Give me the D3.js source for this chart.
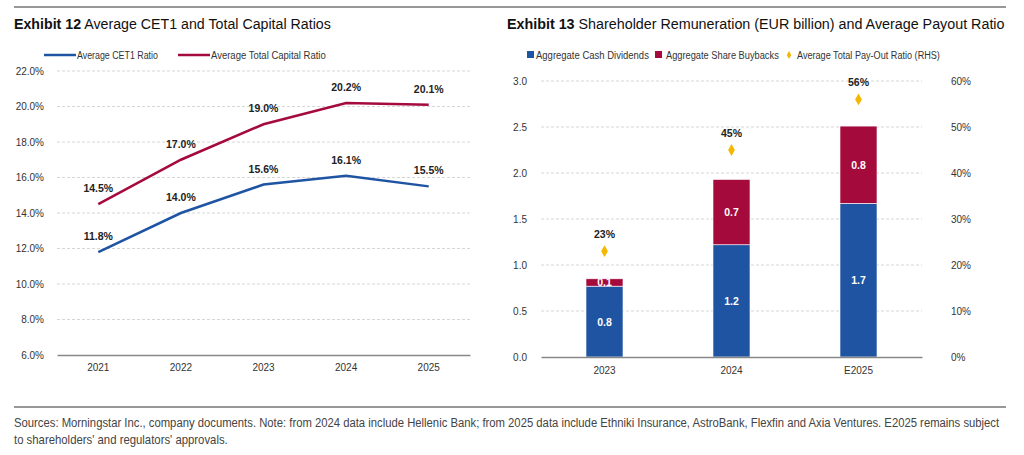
<!DOCTYPE html>
<html>
<head>
<meta charset="utf-8">
<script src="https://cdn.jsdelivr.net/npm/d3@7"></script>
<style>
  body { margin: 0; background: #fff; }
  svg { font-family: "Liberation Sans", Arial, sans-serif; }
  .tick text { fill: #333; font-size: 10px; }
  .grid line { stroke: #d6d6d6; stroke-dasharray: 3,2; }
  .title { font-size: 15.5px; fill: #111; }
  .legend { font-size: 11px; fill: #333; }
  .lbl { font-size: 10.5px; font-weight: bold; fill: #222; }
  .barlbl { font-size: 10.5px; font-weight: bold; fill: #fff; }
  .foot { font-size: 12px; fill: #444; }
</style>
</head>
<body>
<svg id="chart" width="1024" height="455"></svg>
<script>
// Exhibit 12 data
const years = ['2021', '2022', '2023', '2024', '2025'];
const cet1 = [11.8, 14.0, 15.6, 16.1, 15.5];
const totalCapital = [14.5, 17.0, 19.0, 20.2, 20.1];
const ratioTicks = [6, 8, 10, 12, 14, 16, 18, 20, 22];

// Exhibit 13 data
const periods = ['2023', '2024', 'E2025'];
const cashDividends = [0.77, 1.22, 1.67];
const buybacks = [0.08, 0.71, 0.84];
const payout = [23, 45, 56];
const eurTicks = [0, 0.5, 1, 1.5, 2, 2.5, 3];
const payoutTicks = [0, 10, 20, 30, 40, 50, 60];

const BLUE = '#1f54a3';
const RED = '#a50a3c';
const GOLD = '#f5b800';

const svg = d3.select('#chart');

// frame lines
svg.append('line').attr('x1', 14).attr('x2', 1006).attr('y1', 7).attr('y2', 7)
  .attr('stroke', '#333').attr('stroke-width', 1.2);
svg.append('line').attr('x1', 14).attr('x2', 1006).attr('y1', 407).attr('y2', 407)
  .attr('stroke', '#333').attr('stroke-width', 1.2);

// squeeze a text horizontally to the width the condensed font of the original takes
function squeeze(t, x, y, w) {
  const len = t.node().getComputedTextLength();
  t.attr('transform', `translate(${x},${y}) scale(${w / len},1)`);
  return t;
}
function fitText(sel, x, y, cls, str, w) {
  return squeeze(sel.append('text').attr('class', cls).text(str), x, y, w);
}

function title(x, w, bold, rest) {
  const t = svg.append('text').attr('class', 'title');
  t.append('tspan').attr('font-weight', 'bold').text(bold);
  t.append('tspan').text(' ' + rest);
  squeeze(t, x, 29, w);
}
title(14, 317, 'Exhibit 12', 'Average CET1 and Total Capital Ratios');
title(507, 498, 'Exhibit 13', 'Shareholder Remuneration (EUR billion) and Average Payout Ratio');

// ---------- Left chart ----------
const left = { x0: 57, x1: 470, y0: 71, y1: 355 };
const x1 = d3.scaleBand().domain(years).range([left.x0, left.x1]);
const y1 = d3.scaleLinear().domain([6, 22]).range([left.y1, left.y0]);

const gL = svg.append('g');
gL.append('g').attr('class', 'grid')
  .selectAll('line').data(ratioTicks.slice(1)).join('line')
  .attr('x1', left.x0).attr('x2', left.x1)
  .attr('y1', d => y1(d)).attr('y2', d => y1(d));

gL.append('g').attr('transform', `translate(${left.x0 - 10},0)`)
  .call(d3.axisLeft(y1).tickValues(ratioTicks).tickFormat(d => d.toFixed(1) + '%').tickSize(0))
  .call(g => g.select('.domain').remove());

gL.append('g').attr('transform', `translate(0,${left.y1})`)
  .call(d3.axisBottom(x1).tickSize(0).tickPadding(9))
  .call(g => g.select('.domain').attr('stroke', '#888').attr('stroke-width', 1.5));

const line = d3.line().x((d, i) => x1(years[i]) + x1.bandwidth() / 2).y(d => y1(d));
[[totalCapital, RED], [cet1, BLUE]].forEach(([vals, col]) => {
  gL.append('path').datum(vals).attr('d', line)
    .attr('fill', 'none').attr('stroke', col).attr('stroke-width', 2.5);
  gL.append('g').selectAll('text').data(vals).join('text')
    .attr('class', 'lbl').attr('text-anchor', 'middle')
    .attr('x', (d, i) => x1(years[i]) + x1.bandwidth() / 2)
    .attr('y', d => y1(d) - 12)
    .text(d => d.toFixed(1) + '%');
});

// legend left
[['Average CET1 Ratio', BLUE, 44, 81], ['Average Total Capital Ratio', RED, 178, 115]].forEach(([txt, col, lx, w]) => {
  svg.append('line').attr('x1', lx).attr('x2', lx + 32).attr('y1', 55).attr('y2', 55)
    .attr('stroke', col).attr('stroke-width', 2.5);
  fitText(svg, lx + 33, 59, 'legend', txt, w);
});

// ---------- Right chart ----------
const right = { x0: 541, x1: 922, y0: 81, y1: 357 };
const x2 = d3.scaleBand().domain(periods).range([right.x0, right.x1]);
const y2 = d3.scaleLinear().domain([0, 3]).range([right.y1, right.y0]);
const y3 = d3.scaleLinear().domain([0, 60]).range([right.y1, right.y0]);
const barW = 37;

const gR = svg.append('g');
gR.append('g').attr('class', 'grid')
  .selectAll('line').data(eurTicks.slice(1)).join('line')
  .attr('x1', right.x0).attr('x2', right.x1)
  .attr('y1', d => y2(d)).attr('y2', d => y2(d));

gR.append('g').attr('transform', `translate(${right.x0 - 11},0)`)
  .call(d3.axisLeft(y2).tickValues(eurTicks).tickFormat(d3.format('.1f')).tickSize(0))
  .call(g => g.select('.domain').remove());

gR.append('g').attr('transform', `translate(${right.x1 + 26},0)`)
  .call(d3.axisRight(y3).tickValues(payoutTicks).tickFormat(d => d + '%').tickSize(0))
  .call(g => g.select('.domain').remove());

const stacked = d3.stack().keys(['cash', 'buy'])(periods.map((p, i) => ({ p, cash: cashDividends[i], buy: buybacks[i] })));
const cols = { cash: BLUE, buy: RED };
stacked.forEach(layer => {
  const g = gR.append('g');
  g.selectAll('rect').data(layer).join('rect')
    .attr('x', d => x2(d.data.p) + x2.bandwidth() / 2 - barW / 2)
    .attr('width', barW)
    .attr('y', d => y2(d[1]))
    .attr('height', d => y2(d[0]) - y2(d[1]))
    .attr('fill', cols[layer.key])
    .attr('stroke', '#fff').attr('stroke-width', 0.6);
  g.selectAll('text').data(layer).join('text')
    .attr('class', 'barlbl').attr('text-anchor', 'middle')
    .attr('x', d => x2(d.data.p) + x2.bandwidth() / 2)
    .attr('y', d => (y2(d[0]) + y2(d[1])) / 2 + 4)
    .text(d => d3.format('.1f')(d[1] - d[0]));
});

gR.append('g').attr('transform', `translate(0,${right.y1})`)
  .call(d3.axisBottom(x2).tickSize(0).tickPadding(10))
  .call(g => g.select('.domain').attr('stroke', '#888').attr('stroke-width', 1.5));

const diamond = d3.symbol().type(d3.symbolDiamond).size(40);
gR.append('g').selectAll('path').data(payout).join('path')
  .attr('d', diamond)
  .attr('transform', (d, i) => `translate(${x2(periods[i]) + x2.bandwidth() / 2},${y3(d)})`)
  .attr('fill', GOLD);
gR.append('g').selectAll('text').data(payout).join('text')
  .attr('class', 'lbl').attr('text-anchor', 'middle')
  .attr('x', (d, i) => x2(periods[i]) + x2.bandwidth() / 2)
  .attr('y', d => y3(d) - 13)
  .text(d => d + '%');

// legend right
svg.append('rect').attr('x', 527).attr('y', 51).attr('width', 7).attr('height', 7).attr('fill', BLUE);
fitText(svg, 536, 59, 'legend', 'Aggregate Cash Dividends', 113);
svg.append('rect').attr('x', 655).attr('y', 51).attr('width', 7).attr('height', 7).attr('fill', RED);
fitText(svg, 666, 59, 'legend', 'Aggregate Share Buybacks', 113);
svg.append('path').attr('d', d3.symbol().type(d3.symbolDiamond).size(18)).attr('transform', 'translate(789,55)').attr('fill', GOLD);
fitText(svg, 797, 59, 'legend', 'Average Total Pay-Out Ratio (RHS)', 143);

// footer
fitText(svg, 14, 427, 'foot',
  'Sources: Morningstar Inc., company documents. Note: from 2024 data include Hellenic Bank; from 2025 data include Ethniki Insurance, AstroBank, Flexfin and Axia Ventures. E2025 remains subject', 986);
fitText(svg, 14, 444, 'foot', "to shareholders' and regulators' approvals.", 214);
</script>
</body>
</html>
